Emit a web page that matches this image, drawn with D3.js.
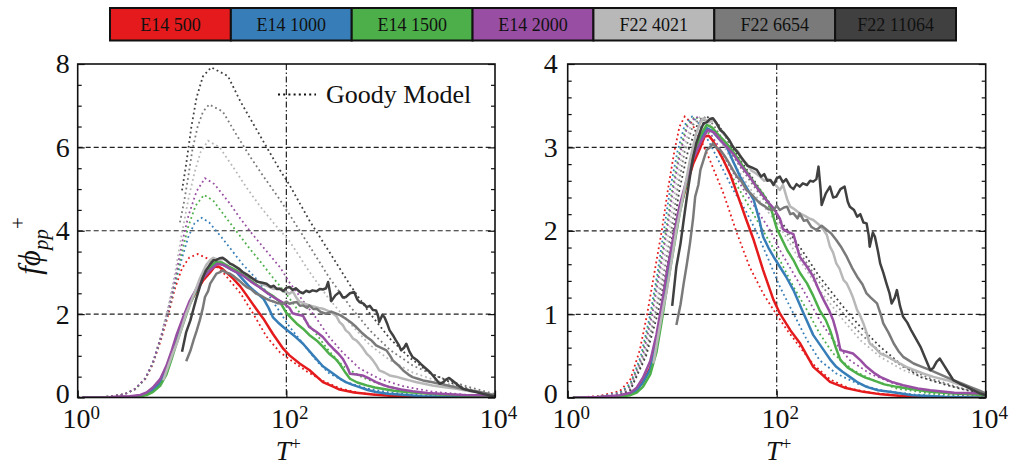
<!DOCTYPE html>
<html><head><meta charset="utf-8">
<script src="https://cdn.jsdelivr.net/npm/d3@7"></script>
<style>
body{margin:0;background:#fff;}
svg text{font-family:"Liberation Serif","Times New Roman",serif;fill:#111;}
</style></head><body>
<svg id="fig" width="1012" height="466"></svg>
<script>
// Cases (boundary-layer databases) and their colours
const cases = ["E14 500","E14 1000","E14 1500","E14 2000","F22 4021","F22 6654","F22 11064"];
const colors = ["#e41a1c","#377eb8","#4daf4a","#984ea3","#b8b8b8","#7a7a7a","#404040"];

// Measured premultiplied wall-pressure spectra f*phi_pp^+ ; points are [log10(T+), value]
const measE14_500 = [[0.05,0],[0.3,0.005],[0.5,0.02],[0.6,0.04],[0.66,0.09],[0.72,0.19],[0.79,0.36],[0.85,0.66],[0.9,1.04],[0.95,1.44],[1.01,1.84],[1.07,2.24],[1.14,2.56],[1.2,2.8],[1.27,3.0],[1.31,3.13],[1.35,3.14],[1.39,3.08],[1.49,2.85],[1.56,2.66],[1.62,2.45],[1.71,2.13],[1.78,1.89],[1.87,1.53],[1.97,1.17],[2.03,1.01],[2.13,0.81],[2.22,0.66],[2.35,0.37],[2.45,0.26],[2.51,0.19],[2.65,0.12],[2.83,0.07],[3.0,0.04],[3.2,0.02],[3.5,0.0],[4.0,0.0]];
const measE14_1000 = [[0.05,0],[0.3,0.005],[0.5,0.02],[0.6,0.04],[0.66,0.09],[0.72,0.18],[0.79,0.34],[0.85,0.64],[0.9,1.02],[0.95,1.42],[1.01,1.83],[1.07,2.24],[1.14,2.6],[1.2,2.88],[1.27,3.1],[1.33,3.23],[1.38,3.2],[1.45,3.1],[1.52,3.01],[1.58,2.84],[1.65,2.65],[1.72,2.5],[1.78,2.37],[1.83,2.15],[1.87,1.93],[1.92,1.8],[1.97,1.69],[2.03,1.57],[2.09,1.45],[2.16,1.29],[2.25,1.03],[2.35,0.75],[2.45,0.57],[2.51,0.46],[2.57,0.37],[2.63,0.31],[2.7,0.25],[2.78,0.18],[2.86,0.13],[2.97,0.09],[3.08,0.07],[3.3,0.03],[3.6,0.01],[4.0,0]];
const measE14_1500 = [[0.05,0],[0.3,0.005],[0.5,0.015],[0.6,0.03],[0.66,0.06],[0.72,0.13],[0.79,0.28],[0.85,0.55],[0.9,0.92],[0.95,1.32],[1.01,1.76],[1.07,2.2],[1.14,2.6],[1.2,2.9],[1.27,3.14],[1.33,3.27],[1.38,3.24],[1.45,3.14],[1.52,3.05],[1.6,2.92],[1.68,2.77],[1.75,2.64],[1.81,2.53],[1.88,2.42],[1.94,2.29],[2.0,2.03],[2.05,1.9],[2.1,1.77],[2.16,1.65],[2.22,1.5],[2.29,1.37],[2.35,1.22],[2.41,1.05],[2.47,0.93],[2.51,0.81],[2.56,0.62],[2.61,0.45],[2.68,0.36],[2.77,0.29],[2.85,0.24],[2.92,0.21],[3.03,0.16],[3.15,0.13],[3.3,0.1],[3.47,0.07],[3.7,0.05],[4.0,0.03]];
const measE14_2000 = [[0.05,0],[0.3,0.008],[0.5,0.03],[0.6,0.06],[0.66,0.12],[0.72,0.24],[0.79,0.44],[0.85,0.76],[0.9,1.12],[0.95,1.52],[1.01,1.92],[1.07,2.3],[1.14,2.62],[1.2,2.86],[1.27,3.06],[1.34,3.21],[1.4,3.18],[1.48,3.06],[1.58,2.93],[1.66,2.78],[1.74,2.65],[1.82,2.5],[1.9,2.37],[1.97,2.27],[2.03,2.15],[2.06,2.02],[2.1,1.99],[2.16,1.96],[2.22,1.69],[2.29,1.57],[2.35,1.45],[2.4,1.3],[2.45,1.17],[2.5,1.05],[2.54,0.93],[2.58,0.75],[2.61,0.57],[2.67,0.55],[2.73,0.53],[2.8,0.45],[2.86,0.37],[2.93,0.3],[2.99,0.25],[3.1,0.19],[3.21,0.15],[3.35,0.11],[3.47,0.09],[3.7,0.06],[4.0,0.05]];
const measF22_4021 = [[0.82,0.41],[0.86,0.7],[0.91,1.05],[0.95,1.3],[0.98,1.53],[1.04,2.01],[1.11,2.45],[1.17,2.85],[1.23,3.17],[1.27,3.3],[1.3,3.35],[1.35,3.3],[1.4,3.33],[1.46,3.21],[1.5,3.15],[1.54,3.1],[1.58,3.01],[1.63,2.95],[1.67,2.85],[1.71,2.81],[1.76,2.72],[1.8,2.69],[1.84,2.65],[1.88,2.6],[1.92,2.62],[1.97,2.57],[2.01,2.52],[2.03,2.49],[2.06,2.55],[2.1,2.38],[2.13,2.29],[2.17,2.26],[2.22,2.21],[2.27,2.18],[2.31,2.15],[2.35,2.13],[2.4,2.08],[2.45,2.01],[2.48,1.95],[2.51,1.81],[2.54,1.74],[2.57,1.61],[2.6,1.55],[2.64,1.41],[2.67,1.37],[2.7,1.29],[2.73,1.2],[2.77,1.05],[2.8,0.98],[2.83,0.89],[2.86,0.78],[2.89,0.65],[2.94,0.6],[2.99,0.53],[3.05,0.5],[3.12,0.45],[3.18,0.41],[3.24,0.37],[3.32,0.33],[3.4,0.29],[3.5,0.25],[3.63,0.21],[3.72,0.17],[3.82,0.13],[3.9,0.09],[4.0,0.05]];
const measF22_6654 = [[1.04,0.87],[1.08,1.12],[1.11,1.37],[1.14,1.6],[1.17,1.85],[1.2,2.15],[1.22,2.41],[1.25,2.55],[1.27,2.73],[1.3,2.85],[1.33,2.97],[1.36,3.0],[1.39,3.05],[1.42,3.0],[1.46,2.97],[1.5,2.9],[1.54,2.82],[1.58,2.73],[1.62,2.65],[1.66,2.6],[1.71,2.49],[1.75,2.45],[1.8,2.38],[1.84,2.33],[1.88,2.3],[1.92,2.26],[1.97,2.25],[2.0,2.3],[2.03,2.25],[2.07,2.28],[2.1,2.29],[2.13,2.2],[2.16,2.21],[2.2,2.15],[2.22,2.21],[2.26,2.12],[2.29,2.13],[2.33,2.05],[2.38,2.01],[2.43,2.06],[2.48,2.01],[2.52,1.97],[2.57,1.89],[2.62,1.8],[2.67,1.69],[2.72,1.56],[2.77,1.45],[2.82,1.36],[2.86,1.25],[2.9,1.2],[2.96,1.13],[3.0,0.98],[3.02,0.89],[3.07,0.78],[3.12,0.65],[3.17,0.55],[3.21,0.49],[3.26,0.45],[3.31,0.41],[3.39,0.37],[3.47,0.33],[3.58,0.27],[3.69,0.21],[3.77,0.17],[3.85,0.13],[3.93,0.09],[4.0,0.05]];
const measF22_11064 = [[1.0,1.1],[1.04,1.57],[1.08,1.85],[1.11,2.13],[1.14,2.4],[1.17,2.65],[1.2,2.88],[1.23,3.05],[1.27,3.2],[1.3,3.29],[1.33,3.3],[1.36,3.34],[1.39,3.35],[1.42,3.3],[1.46,3.21],[1.49,3.18],[1.52,3.13],[1.55,3.08],[1.58,3.01],[1.62,2.95],[1.65,2.9],[1.68,2.85],[1.72,2.78],[1.76,2.76],[1.81,2.73],[1.85,2.65],[1.88,2.68],[1.91,2.6],[1.94,2.61],[1.97,2.55],[2.0,2.63],[2.03,2.65],[2.06,2.58],[2.09,2.62],[2.13,2.53],[2.16,2.5],[2.19,2.56],[2.22,2.53],[2.25,2.57],[2.29,2.55],[2.32,2.6],[2.35,2.59],[2.38,2.62],[2.4,2.77],[2.42,2.5],[2.43,2.31],[2.47,2.45],[2.51,2.53],[2.54,2.4],[2.57,2.41],[2.61,2.5],[2.65,2.53],[2.68,2.35],[2.7,2.29],[2.74,2.25],[2.77,2.17],[2.8,2.2],[2.83,2.1],[2.86,2.09],[2.88,1.95],[2.89,1.81],[2.92,1.98],[2.94,1.93],[2.97,1.75],[2.99,1.61],[3.02,1.5],[3.05,1.37],[3.08,1.25],[3.1,1.13],[3.13,1.2],[3.15,1.29],[3.18,1.1],[3.21,0.97],[3.25,0.9],[3.29,0.8],[3.34,0.69],[3.38,0.6],[3.42,0.48],[3.47,0.33],[3.5,0.36],[3.53,0.43],[3.56,0.47],[3.6,0.39],[3.65,0.29],[3.69,0.21],[3.75,0.17],[3.82,0.13],[3.88,0.09],[3.95,0.05],[4.0,0.03]];

// Goody model, outer-scaled (left panel)
const goodyE14_500 = [[0,0],[0.3,0.02],[0.45,0.08],[0.55,0.2],[0.65,0.45],[0.72,0.8],[0.8,1.4],[0.87,2.0],[0.93,2.6],[1.0,3.1],[1.07,3.36],[1.15,3.44],[1.25,3.33],[1.4,2.98],[1.56,2.5],[1.68,2.02],[1.81,1.46],[1.94,1.08],[2.05,0.88],[2.2,0.62],[2.35,0.4],[2.51,0.22],[2.7,0.11],[2.9,0.06],[3.2,0.02],[3.6,0]];
const goodyE14_1000 = [[0,0],[0.3,0.02],[0.45,0.08],[0.55,0.2],[0.65,0.46],[0.72,0.82],[0.8,1.45],[0.87,2.08],[0.93,2.7],[1.0,3.35],[1.06,3.85],[1.12,4.18],[1.19,4.31],[1.26,4.2],[1.38,3.84],[1.48,3.52],[1.58,3.2],[1.7,2.88],[1.81,2.53],[1.92,2.12],[2.03,1.7],[2.16,1.29],[2.29,0.88],[2.41,0.58],[2.57,0.37],[2.77,0.22],[2.99,0.12],[3.3,0.05],[3.7,0.01]];
const goodyE14_1500 = [[0,0],[0.3,0.02],[0.45,0.08],[0.55,0.2],[0.65,0.46],[0.72,0.83],[0.8,1.47],[0.87,2.1],[0.93,2.75],[1.0,3.5],[1.06,4.1],[1.13,4.6],[1.21,4.86],[1.3,4.72],[1.42,4.32],[1.53,3.96],[1.64,3.6],[1.76,3.23],[1.87,2.88],[1.95,2.64],[2.03,2.38],[2.16,1.92],[2.29,1.51],[2.41,1.11],[2.54,0.76],[2.73,0.48],[2.92,0.3],[3.15,0.16],[3.47,0.07],[3.8,0.03]];
const goodyE14_2000 = [[0,0],[0.3,0.02],[0.45,0.08],[0.55,0.21],[0.65,0.47],[0.72,0.84],[0.8,1.48],[0.87,2.12],[0.93,2.8],[1.0,3.7],[1.06,4.35],[1.14,4.95],[1.22,5.26],[1.31,5.12],[1.45,4.68],[1.56,4.29],[1.68,3.9],[1.81,3.51],[1.94,3.12],[2.03,2.76],[2.16,2.32],[2.29,1.89],[2.41,1.45],[2.54,1.08],[2.7,0.7],[2.89,0.45],[3.12,0.27],[3.4,0.14],[3.79,0.05],[4.0,0.03]];
const goodyF22_4021 = [[0.82,1.7],[0.87,2.2],[0.93,2.95],[1.0,3.95],[1.06,4.75],[1.12,5.4],[1.18,5.9],[1.25,6.16],[1.36,6.0],[1.5,5.49],[1.62,5.03],[1.75,4.58],[1.89,4.15],[2.03,3.75],[2.22,3.02],[2.41,2.36],[2.61,1.78],[2.8,1.26],[2.99,0.9],[3.21,0.6],[3.47,0.38],[3.75,0.2],[4.0,0.07]];
const goodyF22_6654 = [[0.98,4.2],[1.02,4.7],[1.06,5.3],[1.1,5.95],[1.15,6.5],[1.2,6.85],[1.26,7.03],[1.39,6.86],[1.53,6.27],[1.66,5.75],[1.79,5.27],[1.92,4.81],[2.03,4.39],[2.22,3.64],[2.41,2.88],[2.61,2.19],[2.8,1.61],[2.99,1.15],[3.21,0.77],[3.47,0.48],[3.75,0.25],[4.0,0.08]];
const goodyF22_11064 = [[1.0,4.97],[1.04,5.6],[1.09,6.5],[1.14,7.2],[1.2,7.7],[1.28,7.92],[1.44,7.71],[1.56,7.1],[1.7,6.49],[1.84,5.88],[1.94,5.45],[2.03,5.1],[2.22,4.25],[2.41,3.5],[2.61,2.7],[2.8,2.02],[2.99,1.42],[3.18,0.96],[3.37,0.6],[3.63,0.3],[3.88,0.1],[4.0,0.04]];

// Goody model, rescaled (right panel)
const scaledE14_500 = [[0.05,0],[0.3,0.02],[0.5,0.08],[0.6,0.22],[0.69,0.57],[0.76,1.0],[0.83,1.5],[0.9,2.0],[0.96,2.5],[1.02,2.95],[1.07,3.25],[1.12,3.37],[1.18,3.3],[1.27,3.1],[1.36,2.85],[1.49,2.45],[1.62,1.97],[1.74,1.57],[1.87,1.25],[1.97,1.05],[2.1,0.81],[2.22,0.61],[2.35,0.4],[2.51,0.22],[2.7,0.11],[2.9,0.06],[3.2,0.02],[3.6,0]];
const scaledE14_1000 = [[0.05,0],[0.3,0.015],[0.5,0.06],[0.6,0.17],[0.7,0.5],[0.79,1.0],[0.86,1.5],[0.92,2.0],[0.98,2.5],[1.05,2.95],[1.12,3.27],[1.19,3.37],[1.26,3.28],[1.38,3.0],[1.48,2.75],[1.58,2.5],[1.7,2.25],[1.81,1.98],[1.92,1.66],[2.03,1.33],[2.16,1.01],[2.29,0.69],[2.41,0.45],[2.57,0.29],[2.77,0.17],[2.99,0.09],[3.3,0.04],[3.7,0.01]];
const scaledE14_1500 = [[0.05,0],[0.3,0.012],[0.5,0.05],[0.6,0.15],[0.71,0.5],[0.8,1.0],[0.87,1.5],[0.94,2.0],[1.0,2.5],[1.07,2.95],[1.14,3.27],[1.22,3.37],[1.3,3.28],[1.42,3.0],[1.53,2.75],[1.64,2.5],[1.76,2.24],[1.87,2.0],[1.95,1.83],[2.03,1.65],[2.16,1.33],[2.29,1.05],[2.41,0.77],[2.54,0.53],[2.73,0.33],[2.92,0.21],[3.15,0.11],[3.47,0.05],[3.8,0.02]];
const scaledE14_2000 = [[0.05,0],[0.3,0.01],[0.5,0.045],[0.6,0.13],[0.72,0.5],[0.81,1.0],[0.88,1.5],[0.95,2.0],[1.01,2.5],[1.08,2.95],[1.15,3.27],[1.23,3.37],[1.31,3.28],[1.45,3.0],[1.56,2.75],[1.68,2.5],[1.81,2.25],[1.94,2.0],[2.03,1.77],[2.16,1.49],[2.29,1.21],[2.41,0.93],[2.54,0.69],[2.7,0.45],[2.89,0.29],[3.12,0.17],[3.4,0.09],[3.79,0.03],[4.0,0.02]];
const scaledF22_4021 = [[0.05,0],[0.3,0.008],[0.5,0.04],[0.6,0.11],[0.73,0.5],[0.83,1.0],[0.9,1.5],[0.97,2.0],[1.03,2.5],[1.1,2.95],[1.18,3.27],[1.27,3.37],[1.36,3.28],[1.5,3.0],[1.62,2.75],[1.75,2.5],[1.89,2.27],[2.03,2.05],[2.22,1.65],[2.41,1.29],[2.61,0.97],[2.8,0.69],[2.99,0.49],[3.21,0.33],[3.47,0.21],[3.75,0.11],[4.0,0.04]];
const scaledF22_6654 = [[0.05,0],[0.3,0.007],[0.5,0.035],[0.6,0.1],[0.74,0.5],[0.84,1.0],[0.92,1.5],[0.99,2.0],[1.05,2.5],[1.12,2.95],[1.2,3.27],[1.3,3.37],[1.39,3.28],[1.53,3.0],[1.66,2.75],[1.79,2.52],[1.92,2.3],[2.03,2.1],[2.22,1.74],[2.41,1.38],[2.61,1.05],[2.8,0.77],[2.99,0.55],[3.21,0.37],[3.47,0.23],[3.75,0.12],[4.0,0.04]];
const scaledF22_11064 = [[0.05,0],[0.3,0.006],[0.5,0.03],[0.6,0.09],[0.75,0.5],[0.86,1.0],[0.94,1.5],[1.01,2.0],[1.07,2.5],[1.15,2.95],[1.24,3.27],[1.35,3.37],[1.44,3.28],[1.56,3.02],[1.7,2.76],[1.84,2.5],[1.94,2.32],[2.03,2.13],[2.22,1.81],[2.41,1.45],[2.61,1.13],[2.8,0.85],[2.99,0.61],[3.18,0.41],[3.37,0.25],[3.63,0.15],[3.88,0.07],[4.0,0.04]];

const measured = [measE14_500, measE14_1000, measE14_1500, measE14_2000, measF22_4021, measF22_6654, measF22_11064];
const goodyOuter = [goodyE14_500, goodyE14_1000, goodyE14_1500, goodyE14_2000, goodyF22_4021, goodyF22_6654, goodyF22_11064];
const goodyScaled = [scaledE14_500, scaledE14_1000, scaledE14_1500, scaledE14_2000, scaledF22_4021, scaledF22_6654, scaledF22_11064];

const xTicks = [1, 100, 10000];
const leftYTicks = [0, 2, 4, 6, 8];
const rightYTicks = [0, 1, 2, 3, 4];

const svg = d3.select("#fig");

// ---- colour-key bar across the top ----
const keyX = d3.scaleBand().domain(cases).range([110, 956]).padding(0);
const key = svg.append("g");
key.selectAll("rect").data(cases).join("rect")
  .attr("x", d => keyX(d)).attr("y", 8)
  .attr("width", keyX.bandwidth()).attr("height", 32.5)
  .attr("fill", (d, i) => colors[i])
  .attr("stroke", "#111").attr("stroke-width", 2);
key.selectAll("text").data(cases).join("text")
  .attr("x", d => keyX(d) + keyX.bandwidth() / 2).attr("y", 30.5)
  .attr("text-anchor", "middle").attr("font-size", 18)
  .text(d => d);

// ---- panels ----
const panels = [
  {left: 77.7, right: 495, top: 64, bottom: 397.5, ymax: 8, ticks: leftYTicks, minor: 0.5, curves: goodyOuter, legend: true, pad: 8},
  {left: 567.7, right: 985.7, top: 64, bottom: 397.7, ymax: 4, ticks: rightYTicks, minor: 0.2, curves: goodyScaled, legend: false, pad: 10}
];

panels.forEach((p, pi) => {
  const g = svg.append("g");
  const x = d3.scaleLog().domain([1, 1e4]).range([p.left, p.right]);
  const y = d3.scaleLinear().domain([0, p.ymax]).range([p.bottom, p.top]);

  const clipId = "clip" + pi;
  g.append("clipPath").attr("id", clipId).append("rect")
    .attr("x", p.left).attr("y", p.top).attr("width", p.right - p.left).attr("height", p.bottom - p.top);

  // grid
  const gridY = p.ticks.filter(v => v > 0 && v < p.ymax);
  g.selectAll(".gy").data(gridY).join("line")
    .attr("x1", p.left).attr("x2", p.right).attr("y1", d => y(d)).attr("y2", d => y(d))
    .attr("stroke", "#222").attr("stroke-width", 1.2).attr("stroke-dasharray", "5,3");
  g.append("line")
    .attr("x1", x(100)).attr("x2", x(100)).attr("y1", p.top).attr("y2", p.bottom)
    .attr("stroke", "#222").attr("stroke-width", 1.2).attr("stroke-dasharray", "6,2.5,1.5,2.5");

  const line = d3.line().x(d => x(Math.pow(10, d[0]))).y(d => y(d[1])).curve(d3.curveLinear);
  const plot = g.append("g").attr("clip-path", `url(#${clipId})`);

  // model curves (dotted)
  plot.selectAll(".model").data(p.curves).join("path")
    .attr("d", line).attr("fill", "none")
    .attr("stroke", (d, i) => colors[i]).attr("stroke-width", 1.8)
    .attr("stroke-dasharray", "1.8,3");

  // measured curves (solid)
  plot.selectAll(".meas").data(measured).join("path")
    .attr("d", line).attr("fill", "none")
    .attr("stroke", (d, i) => colors[i]).attr("stroke-width", 2.5)
    .attr("stroke-linejoin", "round");

  // y axis: major + minor ticks inside on both sides
  const minorVals = d3.range(0, p.ymax + 1e-9, p.minor).filter(v => !p.ticks.some(t => Math.abs(t - v) < 1e-6));
  const yl = g.append("g").attr("transform", `translate(${p.left},0)`)
    .call(d3.axisLeft(y).tickValues(p.ticks).tickSize(-7).tickPadding(p.pad).tickFormat(d3.format("d")));
  yl.select(".domain").remove();
  yl.selectAll("text").attr("font-size", 28).attr("fill", "#111").attr("font-family", "Liberation Serif")
    .attr("dy", d => d === 0 ? "0.18em" : "0.32em");
  yl.selectAll("line").attr("stroke", "#111").attr("stroke-width", 1.2);
  g.append("g").attr("transform", `translate(${p.left},0)`)
    .call(d3.axisLeft(y).tickValues(minorVals).tickSize(-4).tickFormat(""))
    .call(s => s.select(".domain").remove())
    .selectAll("line").attr("stroke", "#111").attr("stroke-width", 1.2);
  g.append("g").attr("transform", `translate(${p.right},0)`)
    .call(d3.axisRight(y).tickValues(p.ticks).tickSize(-7).tickFormat(""))
    .call(s => s.select(".domain").remove())
    .selectAll("line").attr("stroke", "#111").attr("stroke-width", 1.2);
  g.append("g").attr("transform", `translate(${p.right},0)`)
    .call(d3.axisRight(y).tickValues(minorVals).tickSize(-4).tickFormat(""))
    .call(s => s.select(".domain").remove())
    .selectAll("line").attr("stroke", "#111").attr("stroke-width", 1.2);

  // x axis with power-of-ten labels
  const xa = g.append("g").attr("transform", `translate(0,${p.bottom})`)
    .call(d3.axisBottom(x).tickValues(xTicks).tickSize(-7).tickPadding(4).tickFormat(""));
  xa.select(".domain").remove();
  xa.selectAll("line").attr("stroke", "#111").attr("stroke-width", 1.2);
  xa.selectAll(".tick").each(function (d) {
    const t = d3.select(this).append("text").attr("y", 30.8).attr("text-anchor", "middle")
      .attr("fill", "#111").attr("font-family", "Liberation Serif").attr("font-size", 28).attr("dx", 3);
    t.append("tspan").text("10");
    t.append("tspan").attr("font-size", 19).attr("dy", -9).text(Math.round(Math.log10(d)));
  });

  // frame
  g.append("rect").attr("x", p.left).attr("y", p.top)
    .attr("width", p.right - p.left).attr("height", p.bottom - p.top)
    .attr("fill", "none").attr("stroke", "#111").attr("stroke-width", 1.6);

  // x-axis title T+
  const xt = g.append("text").attr("x", (p.left + p.right) / 2 + 2).attr("y", 460)
    .attr("text-anchor", "middle").attr("font-size", 27);
  xt.append("tspan").attr("font-style", "italic").text("T");
  xt.append("tspan").attr("font-size", 18).attr("dy", -10).text("+");

  if (p.legend) {
    g.append("line").attr("x1", 278).attr("x2", 316).attr("y1", 94.5).attr("y2", 94.5)
      .attr("stroke", "#111").attr("stroke-width", 2).attr("stroke-dasharray", "2,3.2");
    g.append("text").attr("x", 326).attr("y", 103).attr("font-size", 26).text("Goody Model");
  }
});

// y-axis title f phi_pp^+
const yt = svg.append("text").attr("transform", "translate(40,246) rotate(-90)")
  .attr("text-anchor", "middle").attr("font-size", 31);
yt.append("tspan").attr("font-style", "italic").text("fϕ");
yt.append("tspan").attr("font-style", "italic").attr("font-size", 21).attr("dy", 8).text("pp");
yt.append("tspan").attr("font-size", 21).attr("dy", -23).text("+");
</script>
</body></html>
